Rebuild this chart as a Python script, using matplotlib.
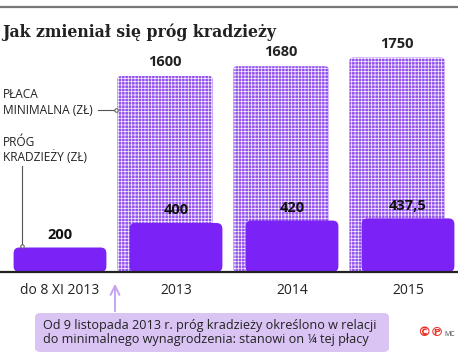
import numpy as np
import matplotlib.pyplot as plt
from matplotlib.patches import FancyBboxPatch

plt.rcParams['font.family'] = ['Open Sans', 'DejaVu Sans']
plt.rcParams['hatch.linewidth'] = 0.55

# data
categories = ["do 8 XI 2013", "2013", "2014", "2015"]
prog = [200, 400, 420, 437.5]            # próg kradzieży (zł)
prog_labels = ["200", "400", "420", "437,5"]
placa = [1600, 1680, 1750]              # płaca minimalna (zł), 2013-2015
placa_labels = ["1600", "1680", "1750"]

W, H = 458, 358
PX_X = 116.0      # pixels per category
PX_Y = 0.1225     # pixels per zł


def fpos(x, y):
    # pixel (from top-left) -> figure fraction
    return x / W, 1 - y / H


def rounded(ax, bars, r, **kw):
    asp = PX_X / PX_Y
    for p in bars:
        x, y = p.get_xy()
        box = FancyBboxPatch((x, y), p.get_width(), p.get_height(),
                             boxstyle=f"round,pad=0,rounding_size={r}",
                             mutation_aspect=asp, **kw)
        ax.add_patch(box)
        p.remove()


fig = plt.figure(figsize=(W / 100, H / 100), dpi=100)
base = 272
ax = fig.add_axes([0, 1 - base / H, 1, (base - 40) / H])
ax.set_xlim(-60 / PX_X, (W - 60) / PX_X)
ax.set_ylim(0, (base - 40) / PX_Y)
ax.axis("off")

x = np.arange(len(categories))

# tall dotted bars - minimum wage
tall = ax.bar(x[1:] - 0.095, placa, width=0.82)
rounded(ax, tall, 0.03, facecolor="#9350f0", edgecolor="#f3ecfd",
        linewidth=0, hatch="+++++", zorder=1)
for xi, v, s in zip(x[1:] - 0.095, placa, placa_labels):
    ax.annotate(s, (xi, v), xytext=(0, 5), textcoords="offset points",
                ha="center", va="bottom", fontsize=10.5, fontweight="bold",
                color="#222222")

# solid bars - theft threshold
small = ax.bar(x, prog, width=0.80)
rounded(ax, small, 0.05, facecolor="#7b22f7", edgecolor="none", zorder=2)
for xi, v, s in zip(x, prog, prog_labels):
    ax.annotate(s, (xi, v), xytext=(0, 4), textcoords="offset points",
                ha="center", va="bottom", fontsize=10.5, fontweight="bold",
                color="#111111", zorder=3)

ax.axhline(0, color="#222222", lw=1.6, zorder=4, clip_on=False)

for xi, c in zip(x, categories):
    fig.text(*fpos(60 + PX_X * xi, 291), c, ha="center", va="center",
             fontsize=10, color="#222222")

# title + top rule
fig.add_artist(plt.Line2D([0, 457 / W], [1 - 7 / H] * 2, color="#777777", lw=1.6))
fig.text(*fpos(2, 32), "Jak zmieniał się próg kradzieży", ha="left", va="center",
         fontsize=11.3, fontweight="bold", family="DejaVu Serif", color="#222222")

# legend-like labels on the left
lab = dict(ha="left", va="center", fontsize=8.6, color="#222222")
fig.text(*fpos(3, 95), "PŁACA", **lab)
fig.text(*fpos(3, 110), "MINIMALNA (ZŁ)", **lab)
fig.add_artist(plt.Line2D([98 / W, 116 / W], [1 - 110 / H] * 2, color="#555555", lw=0.8,
                          marker="o", markevery=[1], markersize=2.5,
                          markerfacecolor="white", markeredgewidth=0.7))
fig.text(*fpos(3, 143), "PRÓG", **lab)
fig.text(*fpos(3, 157), "KRADZIEŻY (ZŁ)", **lab)
fig.add_artist(plt.Line2D([22 / W] * 2, [1 - 166 / H, 1 - 246 / H], color="#555555", lw=0.8,
                          marker="o", markevery=[1], markersize=2.5,
                          markerfacecolor="white", markeredgewidth=0.7, zorder=5))

# note box with arrow
note = FancyBboxPatch(fpos(35, 352), (389 - 35) / W, (352 - 313) / H,
                      boxstyle="round,pad=0,rounding_size=0.012",
                      transform=fig.transFigure, facecolor="#d9c4f4",
                      edgecolor="none")
fig.add_artist(note)
ax.annotate("", xy=fpos(115, 281), xytext=fpos(115, 314),
            xycoords="figure fraction", textcoords="figure fraction",
            arrowprops=dict(arrowstyle="->", color="#c4a4f0", lw=1.4,
                            mutation_scale=16))
fig.text(*fpos(43, 333), "Od 9 listopada 2013 r. próg kradzieży określono w relacji\n"
         "do minimalnego wynagrodzenia: stanowi on ¼ tej płacy",
         ha="left", va="center", fontsize=9.1, color="#222222", linespacing=1.1)

fig.text(*fpos(430, 333), "©℗", ha="center", va="center", fontsize=9.5,
         color="#e8342a", family="DejaVu Sans", fontweight="bold")
fig.text(*fpos(450, 334), "MC", ha="center", va="center", fontsize=5,
         color="#444444")

fig.savefig("out.png", dpi=100)
